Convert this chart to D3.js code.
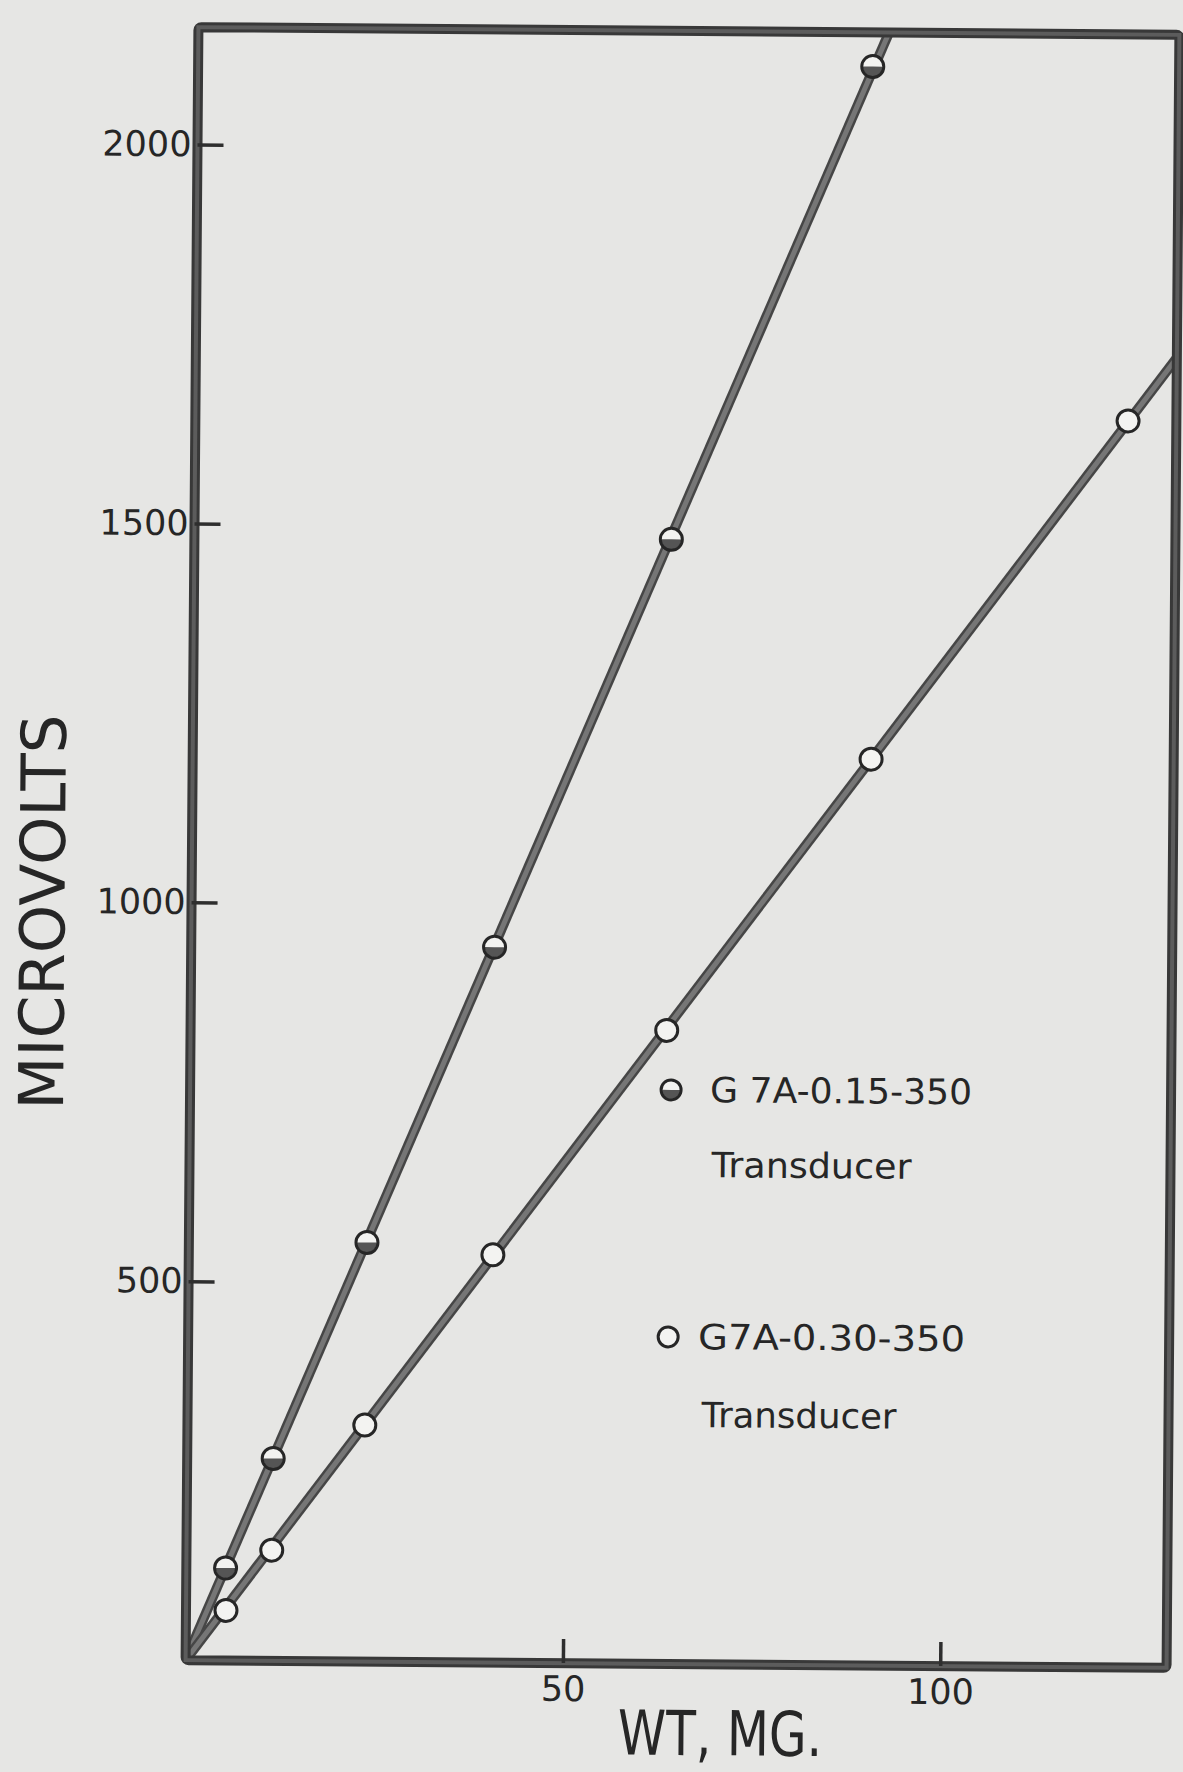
<!DOCTYPE html>
<html>
<head>
<meta charset="utf-8">
<script src="https://cdn.jsdelivr.net/npm/d3@7"></script>
<style>
  html, body { margin: 0; padding: 0; background: #e6e6e4; }
  svg { display: block; }
  text { font-family: "DejaVu Sans", "Liberation Sans", sans-serif; fill: #262626; }
</style>
</head>
<body>
<svg id="chart" width="1183" height="1772"></svg>
<script>
// Calibration curves: transducer output (microvolts) against applied weight (mg)
const xTickValues = [50, 100];
const yTickValues = [500, 1000, 1500, 2000];

const seriesNames = ["G 7A-0.15-350", "G7A-0.30-350"];
const legendSubtitle = "Transducer";

// G7A-0.15-350 transducer (half-filled markers)
const weightA = [5.2, 11.4, 23.6, 40.2, 63.2, 89.4];
const voltsA  = [122, 267, 553, 944, 1484, 2110];

// G7A-0.30-350 transducer (open markers)
const weightB = [5.3, 11.3, 23.5, 40.3, 63.1, 89.9, 123.6];
const voltsB  = [66, 146, 312, 538, 836, 1196, 1645];

const xLabel = "WT, MG.";
const yLabel = "MICROVOLTS";

const svg = d3.select("#chart");
svg.append("rect").attr("width", 1183).attr("height", 1772).attr("fill", "#e6e6e4");

const frame = { left: 192, right: 1173, top: 31, bottom: 1664 };

const x = d3.scaleLinear().domain([0, 130]).range([frame.left, frame.right]);
const y = d3.scaleLinear().domain([0, 2155]).range([frame.bottom, frame.top]);

// the whole sheet sits a little askew on the page
const g = svg.append("g")
  .attr("transform", "rotate(0.45, 683, 847)");

const defs = svg.append("defs");
defs.append("clipPath").attr("id", "plotClip")
  .append("rect")
  .attr("x", frame.left).attr("y", frame.top)
  .attr("width", frame.right - frame.left)
  .attr("height", frame.bottom - frame.top);

const seriesA = weightA.map((w, i) => ({ w, v: voltsA[i] }));
const seriesB = weightB.map((w, i) => ({ w, v: voltsB[i] }));

// least-squares slope of a line through the origin
function slopeThroughOrigin(pts) {
  const sxy = d3.sum(pts, p => p.w * p.v);
  const sxx = d3.sum(pts, p => p.w * p.w);
  return sxy / sxx;
}

const line = d3.line().x(d => x(d.w)).y(d => y(d.v));

function fitLine(pts) {
  const k = slopeThroughOrigin(pts);
  const wEnd = Math.min(x.domain()[1], y.domain()[1] / k) * 1.05;
  return [{ w: 0, v: 0 }, { w: wEnd, v: k * wEnd }];
}

const lineLayer = g.append("g").attr("clip-path", "url(#plotClip)");
[seriesA, seriesB].forEach(pts => {
  const d = line(fitLine(pts));
  lineLayer.append("path").attr("d", d)
    .attr("fill", "none").attr("stroke", "#464646").attr("stroke-width", 10);
  lineLayer.append("path").attr("d", d)
    .attr("fill", "none").attr("stroke", "#767676").attr("stroke-width", 5);
});

// frame
g.append("rect")
  .attr("x", frame.left).attr("y", frame.top)
  .attr("width", frame.right - frame.left)
  .attr("height", frame.bottom - frame.top)
  .attr("rx", 3)
  .attr("fill", "none").attr("stroke", "#383838").attr("stroke-width", 10);
g.append("rect")
  .attr("x", frame.left).attr("y", frame.top)
  .attr("width", frame.right - frame.left)
  .attr("height", frame.bottom - frame.top)
  .attr("fill", "none").attr("stroke", "#5c5c5c").attr("stroke-width", 4);

// axes: inward ticks, labels outside
const yAxis = d3.axisLeft(y).tickValues(yTickValues).tickSize(-26).tickPadding(10)
  .tickFormat(d3.format("d"));
const yAxisG = g.append("g").attr("transform", `translate(${frame.left},0)`).call(yAxis);
yAxisG.select(".domain").remove();
yAxisG.selectAll(".tick line").attr("stroke", "#2e2e2e").attr("stroke-width", 3.5);
yAxisG.selectAll(".tick text")
  .attr("font-size", 35).attr("fill", "#262626")
  .attr("font-family", "DejaVu Sans, sans-serif").attr("x", -6);

const xAxis = d3.axisBottom(x).tickValues(xTickValues).tickSize(-24).tickPadding(13)
  .tickFormat(d3.format("d"));
const xAxisG = g.append("g").attr("transform", `translate(0,${frame.bottom})`).call(xAxis);
xAxisG.select(".domain").remove();
xAxisG.selectAll(".tick line").attr("stroke", "#2e2e2e").attr("stroke-width", 3.5);
xAxisG.selectAll(".tick text")
  .attr("font-size", 35).attr("fill", "#262626")
  .attr("font-family", "DejaVu Sans, sans-serif");

// markers
const R = 11;

function drawMarker(sel, half, r) {
  sel.append("circle").attr("r", r).attr("fill", "#f3f3f1");
  if (half) {
    sel.append("path")
      .attr("d", d3.arc().innerRadius(0).outerRadius(r - 1)
        .startAngle(Math.PI / 2).endAngle(3 * Math.PI / 2)())
      .attr("fill", "#555");
  }
  sel.append("circle").attr("r", r).attr("fill", "none")
    .attr("stroke", "#262626").attr("stroke-width", 3);
}

const markerLayer = g.append("g");
markerLayer.selectAll("g.mA").data(seriesA).join("g")
  .attr("class", "mA")
  .attr("transform", d => `translate(${x(d.w)},${y(d.v)})`)
  .each(function () { drawMarker(d3.select(this), true, R); });
markerLayer.selectAll("g.mB").data(seriesB).join("g")
  .attr("class", "mB")
  .attr("transform", d => `translate(${x(d.w)},${y(d.v)})`)
  .each(function () { drawMarker(d3.select(this), false, R); });

// legend
const legend = g.append("g");
const legendRows = [
  { name: seriesNames[0], half: true,  mx: 673, my: 1090, tx: 712, ty: 1102, tw: 262, sx: 714, sy: 1177, sw: 200 },
  { name: seriesNames[1], half: false, mx: 672, my: 1337, tx: 702, ty: 1349, tw: 267, sx: 706, sy: 1427, sw: 195 }
];
legendRows.forEach(row => {
  const m = legend.append("g").attr("transform", `translate(${row.mx},${row.my})`);
  drawMarker(m, row.half, 10);
  legend.append("text").attr("x", row.tx).attr("y", row.ty)
    .attr("font-size", 35).attr("textLength", row.tw).attr("lengthAdjust", "spacingAndGlyphs")
    .text(row.name);
  legend.append("text").attr("x", row.sx).attr("y", row.sy)
    .attr("font-size", 35).attr("textLength", row.sw).attr("lengthAdjust", "spacingAndGlyphs")
    .text(legendSubtitle);
});

// axis titles
g.append("text")
  .attr("x", 727).attr("y", 1755)
  .attr("text-anchor", "middle")
  .attr("font-size", 62)
  .attr("textLength", 204).attr("lengthAdjust", "spacingAndGlyphs")
  .attr("fill", "#333")
  .text(xLabel);

g.append("text")
  .attr("transform", "translate(65,917) rotate(-90)")
  .attr("text-anchor", "middle")
  .attr("font-size", 62)
  .attr("textLength", 395).attr("lengthAdjust", "spacingAndGlyphs")
  .attr("fill", "#333")
  .text(yLabel);
</script>
</body>
</html>
